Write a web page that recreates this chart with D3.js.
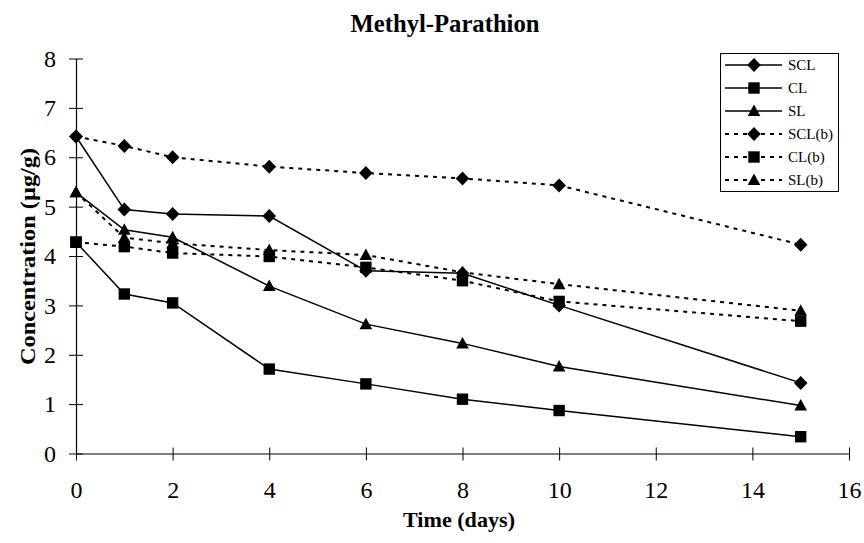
<!DOCTYPE html>
<html><head><meta charset="utf-8">
<script src="https://cdn.jsdelivr.net/npm/d3@7"></script>
<style>body{margin:0;background:#fff}svg{display:block}text{font-family:"Liberation Serif","Times New Roman",serif}</style>
</head><body><div id="c"></div>
<script>
const days = [0, 1, 2, 4, 6, 8, 10, 15];
const SCL  = [6.42, 4.94, 4.85, 4.81, 3.70, 3.65, 3.00, 1.43];
const CL   = [4.28, 3.23, 3.05, 1.71, 1.41, 1.10, 0.87, 0.34];
const SL   = [5.29, 4.53, 4.38, 3.39, 2.62, 2.23, 1.76, 0.97];
const SCLb = [6.42, 6.23, 6.00, 5.81, 5.68, 5.57, 5.43, 4.23];
const CLb  = [4.28, 4.19, 4.06, 3.99, 3.77, 3.50, 3.08, 2.68];
const SLb  = [5.29, 4.37, 4.26, 4.12, 4.02, 3.67, 3.43, 2.89];
const seriesNames = ["SCL", "CL", "SL", "SCL(b)", "CL(b)", "SL(b)"];
const seriesValues = [SCL, CL, SL, SCLb, CLb, SLb];
const seriesShapes = ["diamond", "square", "triangle", "diamond", "square", "triangle"];
const seriesDashed = [false, false, false, true, true, true];
const xTicks = [0, 2, 4, 6, 8, 10, 12, 14, 16];
const yTicks = [0, 1, 2, 3, 4, 5, 6, 7, 8];

const W = 864, H = 543;
const svg = d3.select("#c").append("svg").attr("width", W).attr("height", H);
const x = d3.scaleLinear().domain([0, 16]).range([76, 849]);
const y = d3.scaleLinear().domain([0, 8]).range([453.5, 58.5]);

// axes
const gx = svg.append("g").attr("transform", `translate(0,${y(0)})`)
  .call(d3.axisBottom(x).tickValues(xTicks).tickSize(0).tickFormat(d3.format("d")));
gx.select(".domain").attr("stroke", "#000").attr("stroke-width", 1.2);
gx.selectAll(".tick line").attr("y1", -6).attr("y2", 7).attr("stroke", "#000");
gx.selectAll(".tick text").attr("y", 44.5).attr("dy", null).attr("font-size", 24).attr("fill", "#000");

const gy = svg.append("g").attr("transform", `translate(${x(0)},0)`)
  .call(d3.axisLeft(y).tickValues(yTicks).tickSize(0).tickFormat(d3.format("d")));
gy.select(".domain").attr("stroke", "#000").attr("stroke-width", 1.2);
gy.selectAll(".tick line").attr("x1", -7).attr("x2", 7).attr("stroke", "#000");
gy.selectAll(".tick text").attr("x", -20).attr("font-size", 24).attr("fill", "#000");

// titles
svg.append("text").attr("x", 445).attr("y", 32).attr("text-anchor", "middle")
  .attr("font-size", 25).attr("font-weight", "bold")
  .attr("textLength", 189).attr("lengthAdjust", "spacingAndGlyphs").text("Methyl-Parathion");
svg.append("text").attr("x", 459).attr("y", 527).attr("text-anchor", "middle")
  .attr("font-size", 22).attr("font-weight", "bold")
  .attr("textLength", 112).attr("lengthAdjust", "spacingAndGlyphs").text("Time (days)");
svg.append("text").attr("transform", `translate(35,256.5) rotate(-90)`).attr("text-anchor", "middle")
  .attr("font-size", 22).attr("font-weight", "bold")
  .attr("textLength", 217).attr("lengthAdjust", "spacingAndGlyphs").text("Concentration (µg/g)");

function shapePath(shape) {
  if (shape === "diamond") return "M0,-7L6.8,0L0,7L-6.8,0Z";
  if (shape === "square") return d3.symbol().type(d3.symbolSquare).size(130)();
  return "M0,-6.5L6.3,5L-6.3,5Z";
}
function marker(g, shape, cx, cy) {
  g.append("path").attr("d", shapePath(shape))
    .attr("transform", `translate(${cx},${cy})`).attr("fill", "#000");
}

const line = d3.line().x((d, i) => x(days[i])).y(d => y(d));
const plot = svg.append("g");
[3, 4, 5, 0, 1, 2].forEach(k => {
  plot.append("path").datum(seriesValues[k]).attr("d", line)
    .attr("fill", "none").attr("stroke", "#000")
    .attr("stroke-width", seriesDashed[k] ? 2 : 1.5)
    .attr("stroke-dasharray", seriesDashed[k] ? "4,5" : null);
});
[3, 4, 5, 0, 1, 2].forEach(k => {
  seriesValues[k].forEach((v, i) => marker(plot, seriesShapes[k], x(days[i]), y(v)));
});

// legend
const lg = svg.append("g");
lg.append("rect").attr("x", 720.5).attr("y", 53.5).attr("width", 118).attr("height", 138)
  .attr("fill", "#fff").attr("stroke", "#000").attr("stroke-width", 1);
const rowsY = [65, 88, 111, 134, 157, 180];
seriesNames.forEach((n, k) => {
  const ry = rowsY[k];
  lg.append("line").attr("x1", 725).attr("x2", 782).attr("y1", ry).attr("y2", ry)
    .attr("stroke", "#000").attr("stroke-width", seriesDashed[k] ? 2 : 1.5)
    .attr("stroke-dasharray", seriesDashed[k] ? "4,5" : null);
  marker(lg, seriesShapes[k], 754, ry);
  lg.append("text").attr("x", 788).attr("y", ry).attr("dy", "0.35em")
    .attr("font-size", 15).text(n);
});
</script></body></html>
